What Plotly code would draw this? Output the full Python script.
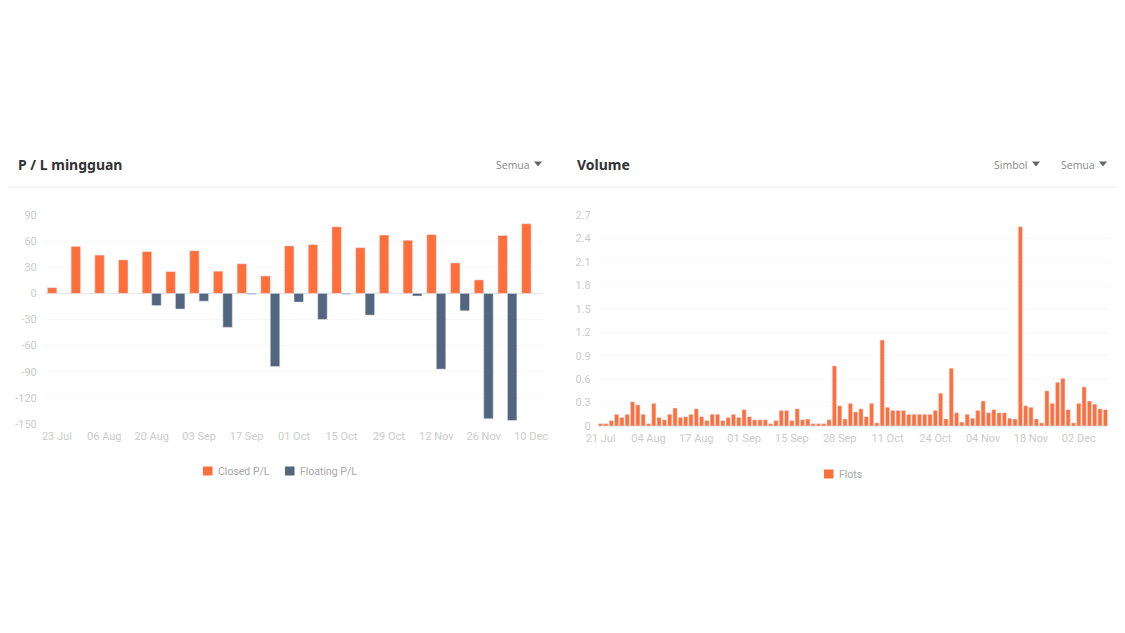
import plotly.graph_objects as go

weeks = ['23 Jul', '30 Jul', '06 Aug', '13 Aug', '20 Aug', '27 Aug', '03 Sep', '10 Sep', '17 Sep', '24 Sep', '01 Oct',
         '08 Oct', '15 Oct', '22 Oct', '29 Oct', '05 Nov', '12 Nov', '19 Nov', '26 Nov', '03 Dec', '10 Dec']
closed_pl = [6.5, 54, 44, 38.5, 48, 25, 49, 25.5, 34, 20, 54.5, 56, 76.5, 52.5, 67, 61, 67.5, 35, 15.5, 66.5, 80]
floating_pl = [0, 0, 0, 0, -14, -18, -9, -39, -1, -84, -10, -30, -1, -25, 0, -3, -87, -20, -144, -146, 0]
pl_ticks = [90, 60, 30, 0, -30, -60, -90, -120, -150]

flots = [0.03, 0.03, 0.07, 0.15, 0.11, 0.15, 0.31, 0.27, 0.15, 0.03, 0.29, 0.11, 0.08, 0.15, 0.23, 0.11,
         0.12, 0.15, 0.22, 0.12, 0.07, 0.15, 0.15, 0.07, 0.11, 0.15, 0.11, 0.21, 0.12, 0.08, 0.08, 0.08,
         0.03, 0.07, 0.2, 0.2, 0.07, 0.22, 0.08, 0.09, 0.03, 0.03, 0.03, 0.08, 0.77, 0.26, 0.09, 0.29,
         0.18, 0.22, 0.12, 0.29, 0.04, 1.1, 0.24, 0.2, 0.2, 0.2, 0.15, 0.15, 0.15, 0.15, 0.15, 0.2,
         0.42, 0.09, 0.74, 0.17, 0.05, 0.15, 0.1, 0.2, 0.32, 0.17, 0.21, 0.17, 0.17, 0.1, 0.09, 2.55,
         0.26, 0.24, 0.09, 0.04, 0.45, 0.29, 0.56, 0.61, 0.21, 0.04, 0.29, 0.5, 0.32, 0.28, 0.22, 0.21]
flots_pos = list(range(len(flots)))
flots_tick_pos = [0, 9, 18, 27, 36, 45, 54, 63, 72, 81, 90]
flots_tick_labels = ['21 Jul', '04 Aug', '17 Aug', '01 Sep', '15 Sep', '28 Sep', '11 Oct', '24 Oct', '04 Nov',
                     '18 Nov', '02 Dec']
flots_ticks = [2.7, 2.4, 2.1, 1.8, 1.5, 1.2, 0.9, 0.6, 0.3, 0]

# the page body keeps an 8px margin, so the figure sits 8px in from the window
OFFSET = 8
W, H = 1125 - OFFSET, 633 - OFFSET
ORANGE = '#ff6f3c'
SLATE = '#54667f'
TICK_FONT = dict(family='Roboto', size=11, color='#cccccc')
LEGEND_FONT = dict(family='Roboto', size=10.5, color='#a8a8a8')


def px(x):
    return (x - OFFSET) / W


def py(y):
    return 1 - (y - OFFSET) / H


fig = go.Figure()
fig.add_trace(go.Bar(x=weeks, y=closed_pl, name='Closed P/L', marker_color=ORANGE, xaxis='x', yaxis='y'))
fig.add_trace(go.Bar(x=weeks, y=floating_pl, name='Floating P/L', marker_color=SLATE, xaxis='x', yaxis='y'))
fig.add_trace(go.Bar(x=flots_pos, y=flots, name='Flots', marker_color=ORANGE, xaxis='x2', yaxis='y2'))

# header texts
annotations = []
for text, x in [('P / L mingguan', 16), ('Volume', 575)]:
    annotations.append(dict(text=text, x=px(x), y=py(164), xref='paper', yref='paper', xanchor='left', yanchor='middle',
                            showarrow=False, font=dict(family='Noto Sans', size=14, color='#333333', weight='bold')))
carets = [542, 1040, 1107]
for text, x in [('Semua', 532), ('Simbol', 1030), ('Semua', 1097)]:
    annotations.append(dict(text=text, x=px(x), y=py(165), xref='paper', yref='paper', xanchor='right', yanchor='middle',
                            showarrow=False, font=dict(family='Open Sans', size=10.5, color='#8a8a8a')))

shapes = [dict(type='line', xref='paper', yref='paper', x0=0, x1=1, y0=py(187), y1=py(187),
               line=dict(color='#f0f0f0', width=1))]
for x in carets:
    path = f'M {px(x - 8)} {py(161.5)} L {px(x)} {py(161.5)} L {px(x - 4)} {py(166.5)} Z'
    shapes.append(dict(type='path', xref='paper', yref='paper', path=path, fillcolor='#666666', line_width=0))

# legends sit tight against their swatches, closer than the built in legend allows
for text, color, x, y in [('Closed P/L', ORANGE, 203, 471), ('Floating P/L', SLATE, 285, 471), ('Flots', ORANGE, 824, 474)]:
    shapes.append(dict(type='rect', xref='paper', yref='paper', x0=px(x), x1=px(x + 9.5), y0=py(y + 4.5), y1=py(y - 4.5),
                       fillcolor=color, line_width=0))
    annotations.append(dict(text=text, x=px(x + 12.5), y=py(y), xref='paper', yref='paper', xanchor='left', yanchor='middle',
                            showarrow=False, font=LEGEND_FONT))

fig.update_layout(
    width=W, height=H, margin=dict(l=0, r=0, t=0, b=0, autoexpand=False),
    paper_bgcolor='white', plot_bgcolor='white', showlegend=False,
    barmode='group', bargap=0.2, bargroupgap=0,
    annotations=annotations, shapes=shapes,
    xaxis=dict(domain=[px(45), px(543)], type='category', tickmode='array', tickvals=weeks[::2], ticktext=weeks[::2],
               anchor='y', side='bottom', showgrid=False, tickfont=TICK_FONT, ticks='outside', ticklen=2,
               tickcolor='white', tickangle=0),
    yaxis=dict(domain=[py(424), py(215)], range=[-150, 90], tickmode='array', tickvals=pl_ticks,
               ticktext=[str(v) for v in pl_ticks], gridcolor='#f8f8f8', zeroline=True, zerolinecolor='#e2e2e2',
               zerolinewidth=1, tickfont=TICK_FONT, ticks='outside', ticklen=5, tickcolor='white', anchor='x'),
    xaxis2=dict(domain=[px(598), px(1108)], range=[-0.5, len(flots) - 0.5], tickmode='array', tickvals=flots_tick_pos,
                ticktext=flots_tick_labels, anchor='y2', showgrid=False, tickfont=TICK_FONT, ticks='outside', ticklen=2,
                tickcolor='white', tickangle=0),
    yaxis2=dict(domain=[py(426), py(215)], range=[0, 2.7], tickmode='array', tickvals=flots_ticks,
                ticktext=[str(v) for v in flots_ticks], gridcolor='#f8f8f8', zeroline=True, zerolinecolor='#eeeeee',
                tickfont=TICK_FONT, ticks='outside', ticklen=4, tickcolor='white', anchor='x2'),
)

fig.write_html("out.html")
